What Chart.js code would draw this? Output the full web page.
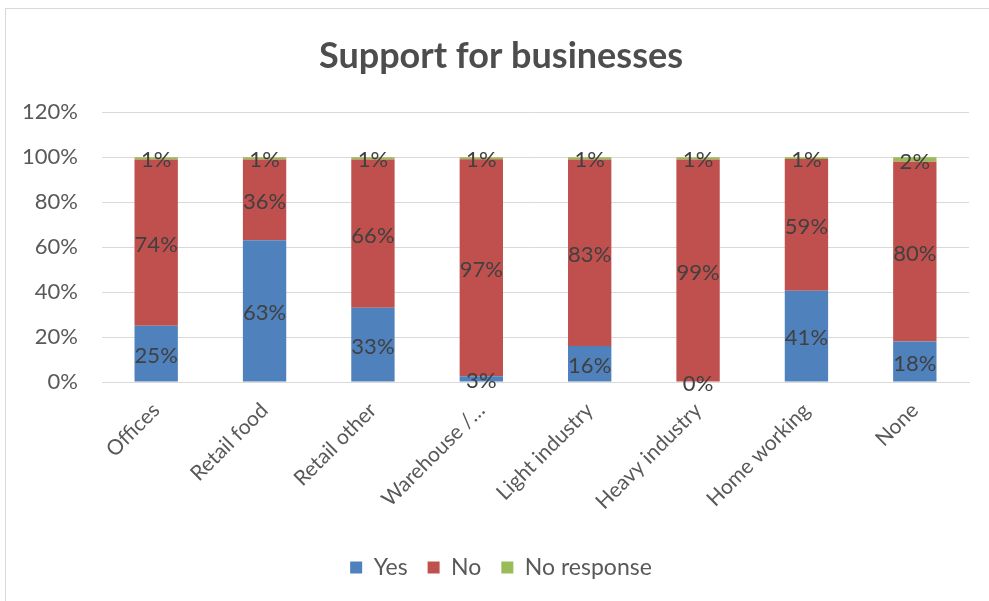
<!DOCTYPE html>
<html>
<head>
<meta charset="utf-8">
<script src="https://cdn.jsdelivr.net/npm/chart.js@4"></script>
<style>
  html, body { margin: 0; padding: 0; background: #ffffff; }
  #wrap { position: relative; width: 989px; height: 601px; overflow: hidden; }
  #frame { position: absolute; left: 5px; top: 8px; width: 1000px; height: 700px;
           border-left: 1px solid #d9d9d9; border-top: 1px solid #d9d9d9; box-sizing: border-box; }
  canvas { position: absolute; left: 0; top: 0; }
</style>
</head>
<body>
<div id="wrap">
  <div id="frame"></div>
  <canvas id="c" width="1002" height="601"></canvas>
</div>
<script>
const categories = ["Offices", "Retail food", "Retail other", "Warehouse /\u2026", "Light industry", "Heavy industry", "Home working", "None"];
const yesValues = [25, 63, 33, 2.6, 16, 0, 40.6, 18];
const noValues = [74, 36, 66, 96.5, 83, 99, 58.6, 80];
const noResponseValues = [1, 1, 1, 0.9, 1, 1, 0.8, 2];
const yTicks = [0, 20, 40, 60, 80, 100, 120];

const FONT = "Lato, 'Open Sans', sans-serif";

const labelPlugin = {
  id: 'segLabels',
  afterDatasetsDraw(chart) {
    const ctx = chart.ctx;
    ctx.save();
    ctx.font = "22px " + FONT;
    ctx.fillStyle = "#404040";
    ctx.textAlign = "center";
    ctx.textBaseline = "middle";
    chart.data.datasets.forEach((ds, di) => {
      const meta = chart.getDatasetMeta(di);
      meta.data.forEach((el, i) => {
        const p = el.getCenterPoint();
        ctx.fillText(Math.round(ds.data[i]) + "%", p.x, p.y + 2);
      });
    });
    ctx.restore();
  }
};

new Chart(document.getElementById('c'), {
  type: 'bar',
  data: {
    labels: categories,
    datasets: [
      { label: 'Yes', data: yesValues, backgroundColor: '#4F81BD', borderWidth: 0 },
      { label: 'No', data: noValues, backgroundColor: '#C0504D', borderWidth: 0 },
      { label: 'No response', data: noResponseValues, backgroundColor: '#9BBB59', borderWidth: 0 }
    ]
  },
  options: {
    responsive: false,
    animation: false,
    devicePixelRatio: 1,
    layout: { padding: { left: 0, right: 0, top: 0, bottom: 12 } },
    datasets: { bar: { categoryPercentage: 1.0, barPercentage: 0.4 } },
    plugins: {
      title: {
        display: true,
        text: 'Support for businesses',
        color: '#4d4d4d',
        font: { family: FONT, size: 36, weight: 'bold' },
        padding: { top: 35, bottom: 34 }
      },
      legend: {
        position: 'bottom',
        labels: {
          color: '#595959',
          font: { family: FONT, size: 23 },
          boxWidth: 12, boxHeight: 12,
          padding: 20
        }
      },
      tooltip: { enabled: false }
    },
    scales: {
      x: {
        stacked: true,
        grid: { display: false, drawTicks: false },
        border: { display: true, color: '#d9d9d9', width: 1 },
        ticks: {
          color: '#595959',
          font: { family: FONT, size: 21 },
          maxRotation: 45, minRotation: 45,
          autoSkip: false,
          padding: 16
        },
        afterFit(scale) { scale.height = 154; }
      },
      y: {
        stacked: true,
        min: 0, max: 120,
        afterBuildTicks(scale) { scale.ticks = yTicks.map(v => ({ value: v })); },
        grid: { color: '#d9d9d9', lineWidth: 1, drawTicks: false },
        border: { display: false },
        ticks: {
          color: '#595959',
          font: { family: FONT, size: 22 },
          padding: 24,
          callback: v => v + '%'
        },
        afterFit(scale) { scale.width = 102; }
      },
      spacer: {
        type: 'linear',
        position: 'right',
        display: true,
        grid: { display: false, drawTicks: false },
        border: { display: false },
        ticks: { display: false },
        afterFit(scale) { scale.width = 33; }
      }
    }
  },
  plugins: [labelPlugin]
});
</script>
</body>
</html>
